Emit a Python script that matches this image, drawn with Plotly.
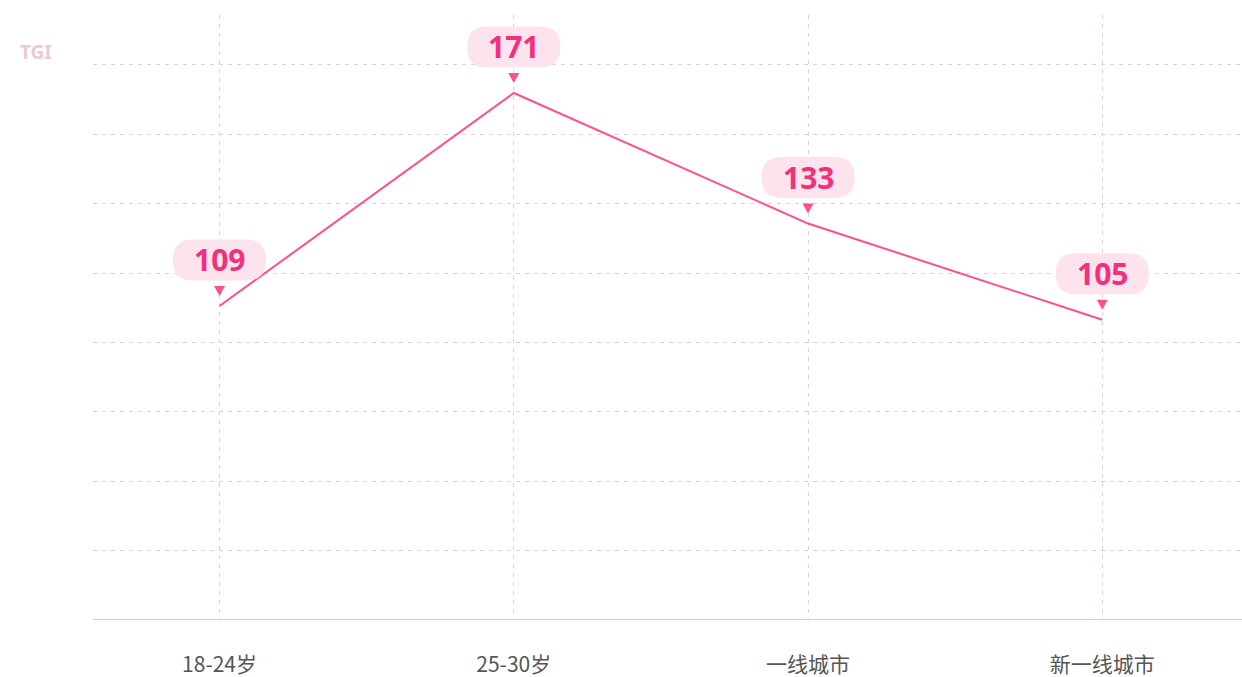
import plotly.graph_objects as go

categories = ["18-24岁", "25-30岁", "一线城市", "新一线城市"]
tgi_values = [109, 171, 133, 105]
axis_title = "TGI"

LINE = "#ff4f8f"
LABEL = "#f2307c"
BUBBLE = "#fde3ee"
GRID = "#dcd2d6"

y_min, y_max = 17.6, 193.7
grid_step = 20.2

fig = go.Figure()
fig.add_trace(go.Scatter(
    x=list(range(len(categories))), y=tgi_values, mode="lines",
    line=dict(color=LINE, width=2), hoverinfo="skip", showlegend=False,
))

def rounded_rect(w, h, r, cy):
    x0, x1 = -w / 2, w / 2
    y0, y1 = cy - h / 2, cy + h / 2
    return (f"M {x0+r},{y0} L {x1-r},{y0} Q {x1},{y0} {x1},{y0+r} "
            f"L {x1},{y1-r} Q {x1},{y1} {x1-r},{y1} L {x0+r},{y1} "
            f"Q {x0},{y1} {x0},{y1-r} L {x0},{y0+r} Q {x0},{y0} {x0+r},{y0} Z")

for i, v in enumerate(tgi_values):
    fig.add_shape(type="path", xref="x", yref="y", xsizemode="pixel", ysizemode="pixel",
                  xanchor=i, yanchor=v, path=rounded_rect(93, 41, 20, 46),
                  fillcolor=BUBBLE, line=dict(width=0), layer="above")
    fig.add_shape(type="path", xref="x", yref="y", xsizemode="pixel", ysizemode="pixel",
                  xanchor=i, yanchor=v, path="M -5.5,20 L 5.5,20 L 0,10 Z",
                  fillcolor=LINE, line=dict(width=0), layer="above")
    fig.add_annotation(x=i, y=v, text=f"<b>{v}</b>", showarrow=False,
                       yshift=46, font=dict(family="Open Sans, Noto Sans", size=30, color=LABEL))

fig.add_annotation(xref="paper", yref="paper", x=0, y=1, text="<b>" + axis_title + "</b>",
                   showarrow=False, xanchor="left", yanchor="top", xshift=-75, yshift=-22,
                   font=dict(family="Noto Sans", size=19, color="#ebc9d6"))

fig.update_xaxes(range=[-0.43, 3.475], tickvals=list(range(len(categories))), ticktext=categories,
                 showgrid=True, gridcolor=GRID, griddash="4px,5px", gridwidth=1,
                 showline=False, zeroline=False, ticks="", ticklabelstandoff=30,
                 tickfont=dict(family="Noto Sans CJK SC", size=21, color="#555555"))
fig.update_yaxes(range=[y_min, y_max], tick0=y_min, dtick=grid_step, showticklabels=False,
                 showgrid=True, gridcolor=GRID, griddash="4px,5px", gridwidth=1,
                 zeroline=False, showline=False, ticks="")

fig.add_shape(type="line", xref="paper", yref="y", x0=0, x1=1, y0=y_min, y1=y_min,
              line=dict(color="#e2c8d2", width=2))

fig.update_layout(width=1242, height=677, margin=dict(l=93, r=0, t=15, b=57),
                  plot_bgcolor="white", paper_bgcolor="white")

fig.write_html("out.html", config={"displayModeBar": False},
               post_script="document.body.style.margin='0';document.body.style.overflow='hidden';")
